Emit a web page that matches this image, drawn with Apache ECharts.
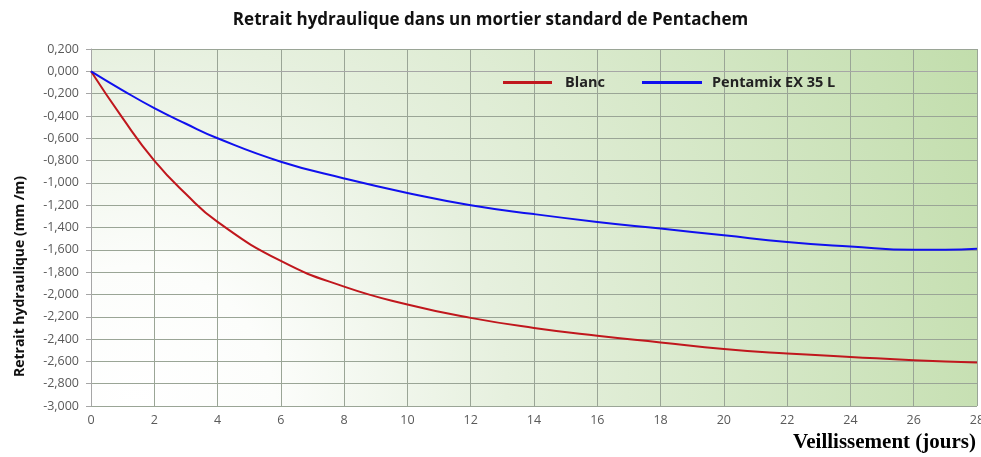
<!DOCTYPE html>
<html>
<head>
<meta charset="utf-8">
<script src="https://cdn.jsdelivr.net/npm/echarts@6/dist/echarts.min.js"></script>
<style>html,body{margin:0;padding:0;background:#fff}#c{width:981px;height:457px}</style>
</head>
<body>
<div id="c"></div>
<script>
var titleText = 'Retrait hydraulique dans un mortier standard de Pentachem';
var xName = 'Veillissement (jours)';
var yName = 'Retrait hydraulique (mm /m)';
var seriesNames = ['Blanc', 'Pentamix EX 35 L'];
var blancDays = [0, 1, 2, 3, 4, 6, 8, 10, 12, 14, 16, 18, 20, 22, 24, 26, 28];
var blancValues = [0, -0.42, -0.80, -1.10, -1.35, -1.70, -1.93, -2.09, -2.21, -2.30, -2.37, -2.43, -2.49, -2.53, -2.56, -2.59, -2.61];
var pentaDays = [0, 1, 2, 3, 4, 6, 8, 10, 12, 14, 16, 18, 20, 22, 24, 26, 27, 28];
var pentaValues = [0, -0.17, -0.33, -0.47, -0.60, -0.81, -0.96, -1.09, -1.20, -1.28, -1.35, -1.41, -1.47, -1.53, -1.57, -1.60, -1.60, -1.59];

function pairs(xs, ys) { return xs.map(function (x, i) { return [x, ys[i]]; }); }

var legendText = { fontFamily: 'Open Sans', fontWeight: 'bold', fontSize: 14.5, color: '#222' };

var chart = echarts.init(document.getElementById('c'));
chart.setOption({
  animation: false,
  backgroundColor: '#ffffff',
  title: [{
    text: titleText, left: 'center', top: 7,
    textStyle: { fontFamily: 'Open Sans', fontWeight: 'bold', fontSize: 17, color: '#111' }
  }, {
    text: xName, right: 5, top: 432, padding: 0,
    textStyle: { fontFamily: 'Liberation Serif', fontWeight: 'bold', fontSize: 21, color: '#000' }
  }],
  legend: [{
    data: [seriesNames[0]], left: 503, top: 75, itemWidth: 49, itemHeight: 3, icon: 'rect',
    padding: 0, textStyle: Object.assign({ padding: [0, 0, 0, 8] }, legendText)
  }, {
    data: [seriesNames[1]], left: 642, top: 75, itemWidth: 60, itemHeight: 3, icon: 'rect',
    padding: 0, textStyle: Object.assign({ padding: [0, 0, 0, 5] }, legendText)
  }],
  grid: {
    left: 91, right: 4, top: 49, bottom: 51,
    outerBoundsMode: 'none',
    show: true, borderWidth: 0,
    backgroundColor: new echarts.graphic.RadialGradient(0.05, 1, 2.6, [
      { offset: 0, color: '#ffffff' },
      { offset: 0.15, color: '#fcfdfb' },
      { offset: 0.4, color: '#e6f0de' },
      { offset: 1, color: '#c1ddab' }
    ])
  },
  xAxis: {
    type: 'value', min: 0, max: 28, interval: 2,
    axisLine: { show: true, lineStyle: { color: '#a6a6a6' } },
    axisTick: { show: false },
    splitLine: { show: true, lineStyle: { color: '#9aa596', width: 1 } },
    axisLabel: { fontFamily: 'Open Sans', fontSize: 12.5, color: '#595959', margin: 8 }
  },
  yAxis: {
    type: 'value', min: -3, max: 0.2, interval: 0.2,
    name: yName, nameLocation: 'middle', nameGap: 64,
    nameTextStyle: { fontFamily: 'Open Sans', fontWeight: 'bold', fontSize: 14, color: '#111', padding: [0, 98, 0, 0] },
    axisLine: { show: true, lineStyle: { color: '#a6a6a6' } },
    axisTick: { show: true, length: 5, lineStyle: { color: '#a6a6a6' } },
    splitLine: { show: true, lineStyle: { color: '#9aa596', width: 1 } },
    axisLabel: {
      fontFamily: 'Open Sans', fontSize: 12.5, color: '#595959', margin: 12,
      formatter: function (v) { return v.toFixed(3).replace('.', ','); }
    }
  },
  series: [
    { name: seriesNames[0], type: 'line', smooth: 0.5, showSymbol: false, data: pairs(blancDays, blancValues),
      lineStyle: { color: '#c0171d', width: 2 }, itemStyle: { color: '#c0171d' } },
    { name: seriesNames[1], type: 'line', smooth: 0.5, showSymbol: false, data: pairs(pentaDays, pentaValues),
      lineStyle: { color: '#1010ee', width: 2 }, itemStyle: { color: '#1010ee' } }
  ]
});
</script>
</body>
</html>
